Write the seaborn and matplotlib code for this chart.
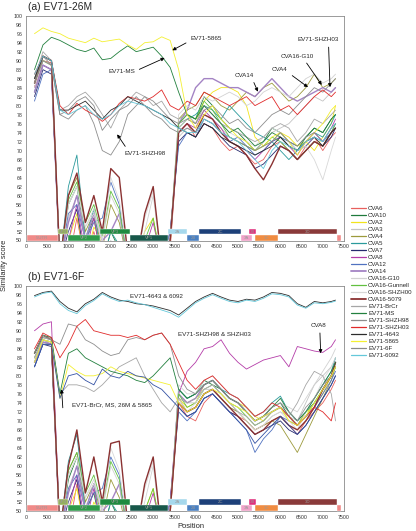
import matplotlib
matplotlib.use("Agg")
import matplotlib.pyplot as plt
import pandas as pd
import seaborn as sns

# window positions (bp)
POS = [200, 400, 600, 800, 1000, 1200, 1400, 1600, 1800, 2000, 2200, 2400, 2600,
       2800, 3000, 3200, 3400, 3600, 3800, 4000, 4200, 4400, 4600, 4800, 5000,
       5200, 5400, 5600, 5800, 6000, 6200, 6400, 6600, 6800, 7000, 7200, 7300]

# ---- panel (a): query EV71-26M ----
A_CVA6 = [84, 90, 89.5, 45, 45, 55, 45, 52, 45, 45, 45, 45, 45, 45, 45, 45, 48, 74, 76, 73, 76, 75, 72, 70, 71, 69, 67, 68, 71, 72, 70, 68, 71, 73, 70, 73, 74]
A_CVA10 = [86, 91, 90, 45, 58, 62, 50, 55, 45, 52, 48, 45, 45, 45, 45, 45, 50, 76, 78, 77, 82, 80, 77, 75, 74, 72, 70, 72, 75, 74, 72, 71, 73, 75, 74, 77, 78]
A_CVA2 = [85, 90, 89, 45, 50, 56, 45, 53, 50, 45, 45, 45, 45, 52, 55, 45, 49, 75, 77, 76, 81, 83, 84, 84, 83, 80, 73, 71, 72, 74, 73, 71, 72, 70, 73, 76, 80]
A_CVA3 = [83, 89, 88, 45, 55, 60, 52, 48, 45, 50, 45, 45, 45, 45, 45, 45, 50, 73, 75, 74, 78, 77, 75, 73, 72, 71, 70, 72, 74, 75, 76, 78, 80, 82, 81, 83, 84]
A_CVA4 = [84, 90, 89, 45, 60, 64, 52, 56, 48, 58, 54, 45, 45, 45, 45, 45, 50, 77, 79, 80, 83, 82, 80, 79, 81, 83, 82, 84, 85, 83, 81, 82, 84, 87, 84, 85, 86]
A_CVA5 = [83, 89, 88, 45, 62, 69, 50, 57, 45, 52, 49, 45, 45, 45, 45, 45, 50, 75, 77, 78, 80, 79, 77, 80, 78, 76, 74, 73, 72, 70, 68, 70, 72, 74, 73, 76, 78]
A_CVA7 = [82, 88, 87, 45, 52, 57, 45, 50, 45, 45, 45, 45, 45, 45, 45, 45, 52, 72, 74, 73, 76, 75, 73, 71, 70, 69, 66, 67, 69, 71, 70, 68, 70, 72, 71, 73, 75]
A_CVA8 = [84, 89, 88, 45, 50, 58, 47, 55, 45, 48, 45, 45, 45, 48, 54, 45, 50, 74, 76, 75, 79, 77, 75, 72, 71, 70, 68, 70, 72, 73, 71, 69, 72, 74, 72, 75, 77]
A_CVA12 = [81, 87, 88, 45, 56, 58, 50, 54, 55, 63, 58, 45, 45, 45, 45, 45, 52, 71, 74, 73, 77, 76, 74, 72, 73, 71, 69, 70, 72, 73, 72, 70, 71, 73, 72, 74, 76]
A_CVA14 = [83, 89, 88, 45, 54, 60, 50, 56, 50, 52, 56, 45, 45, 45, 45, 45, 50, 76, 79, 84, 86, 86, 85, 84, 84, 83, 82, 84, 86, 84, 82, 81, 82, 83, 84, 83, 84]
A_G10 = [85, 91, 90, 45, 58, 62, 53, 57, 50, 60, 56, 46, 45, 52, 60, 45, 50, 78, 80, 79, 82, 81, 82, 83, 82, 80, 81, 83, 84, 83, 82, 84, 86, 87, 85, 86, 87]
A_GUN = [85, 90, 89, 45, 59, 63, 54, 58, 51, 61, 57, 45, 45, 50, 55, 45, 50, 76, 78, 77, 81, 79, 76, 73, 72, 71, 70, 71, 73, 72, 70, 68, 70, 72, 71, 74, 76]
A_SHZH00 = [84, 90, 89, 45, 58, 62, 53, 56, 50, 64, 59, 47, 45, 55, 61, 45, 50, 75, 77, 76, 80, 78, 76, 74, 73, 72, 71, 73, 75, 74, 72, 70, 71, 68, 63.5, 70, 73]
A_5079 = [85, 91, 90, 45, 60, 65, 54, 60, 52, 66, 64, 47, 45, 56, 62, 45, 50, 74, 76, 74, 78, 77, 74, 72, 71, 69, 66, 63.5, 67, 71, 70, 68, 70, 72, 71, 74, 75]
A_BRCR = [86, 92, 90, 79, 80, 82, 83, 81, 78, 75, 79, 81, 83, 82, 80, 81, 78, 77, 78, 76, 80, 78, 76, 75, 74, 73, 72, 73, 75, 76, 75, 72, 74, 77, 76, 78, 79]
A_MS = [88, 93.5, 95.2, 94.5, 93.5, 92.5, 92, 92.8, 90.2, 90.5, 92, 93.3, 92, 92.5, 93, 91, 88.5, 83, 78, 77, 80, 78, 76, 74, 75, 73, 71, 72, 74, 73, 71, 70, 73, 75, 74, 77, 78]
A_SHZH98 = [85, 91, 89, 78, 77, 79, 80, 76, 70, 69, 72, 78, 80, 82, 81, 79, 77, 76, 77, 76, 79, 80, 78, 76, 77, 75, 74, 76, 78, 79, 78, 80, 82, 84, 83, 85, 86]
A_SHZH03 = [87, 91, 90, 80, 78, 80.5, 79, 78, 76.5, 78, 80.5, 82, 81.5, 81, 82, 83.5, 80, 79, 81, 80, 83, 82, 81, 80, 81, 82, 80, 81, 82, 79, 80, 78, 80, 82, 83.5, 82, 83]
A_4643 = [86, 91, 90, 79, 79, 80, 81, 79, 77, 79, 80, 82, 81, 80, 79, 78, 77, 75, 74, 73, 76, 75, 73, 72, 71, 70, 69, 70, 71, 73, 71, 70, 72, 73, 71, 74, 75]
A_5865 = [96, 97.3, 96.5, 96, 95, 94.5, 94, 95, 94.2, 94.5, 94.8, 93.5, 92.5, 94, 94.2, 95.3, 94.5, 88, 78, 75, 78, 80, 77, 75, 73, 72, 70, 71, 73, 74, 72, 69, 72, 74, 76, 79, 80]
A_6F = [85, 90, 89, 78, 79, 81, 82, 80, 74.5, 77, 79, 80, 82, 80, 78, 77, 75, 74, 75, 74, 77, 76, 74, 73, 72, 71, 70, 71, 72, 74, 72, 71, 73, 74, 72, 75, 76]
A_6092 = [87, 91, 90, 79, 78, 79, 80, 78, 77, 78, 80, 81, 80.5, 80, 79, 78, 76, 75, 74, 74, 77, 76, 74, 73, 72, 70, 68, 66, 70, 72, 71, 70, 72, 73, 72, 75, 76]

# ---- panel (b): query EV71-6F ----
B_CVA6 = [84, 88, 87, 45, 45, 56, 45, 50, 45, 45, 45, 45, 45, 45, 45, 45, 49, 74, 71, 70, 74, 76, 74, 72, 71, 70, 68, 69, 70, 71, 69, 67, 70, 72, 74, 77, 79]
B_CVA10 = [85, 88.5, 88, 45, 57, 62, 50, 54, 45, 52, 48, 45, 45, 45, 45, 45, 50, 77, 75, 76, 79, 78, 77, 75, 74, 72, 70, 71, 73, 74, 71, 69, 72, 74, 77, 80, 83]
B_CVA2 = [83, 87, 87, 45, 50, 55, 45, 52, 48, 45, 45, 45, 45, 50, 55, 45, 49, 75, 73, 74, 78, 79, 77, 75, 74, 73, 71, 70, 72, 73, 70, 69, 72, 73, 76, 80, 82]
B_CVA3 = [84, 88, 87, 45, 55, 60, 52, 48, 45, 50, 45, 45, 45, 45, 45, 45, 50, 76, 74, 74, 77, 77, 75, 73, 72, 70, 68, 69, 71, 72, 71, 70, 74, 78, 80, 82, 84]
B_CVA4 = [84, 88, 87.5, 45, 59, 63, 52, 56, 48, 57, 53, 45, 45, 45, 45, 45, 50, 75, 72, 73, 76, 77, 75, 73, 72, 70, 68, 69, 70, 69, 66, 63, 67, 71, 75, 79, 82]
B_CVA5 = [83, 87.5, 87, 45, 61, 67, 50, 56, 45, 52, 49, 45, 45, 45, 45, 45, 50, 77, 75, 76, 78, 79, 77, 76, 75, 73, 71, 72, 74, 75.5, 72, 70, 72, 75, 78, 81, 84]
B_CVA7 = [82, 87, 86.5, 45, 52, 57, 45, 50, 45, 45, 45, 45, 45, 45, 45, 45, 52, 73, 71, 72, 75, 76, 74, 72, 71, 69, 67, 68, 69, 70, 68, 67, 69, 72, 75, 78, 80]
B_CVA8 = [90, 91.5, 92, 45, 50, 58, 47, 55, 45, 48, 45, 45, 45, 48, 54, 45, 52, 76, 81, 83, 86, 86.5, 88, 85, 83, 81.5, 82.5, 83.5, 84, 84.5, 82, 86.5, 86, 85.5, 85.2, 86.5, 88]
B_CVA12 = [82, 87, 87, 45, 55, 58, 50, 54, 55, 62, 58, 45, 45, 45, 45, 45, 52, 72, 70, 72, 75, 76, 74, 72, 70, 68, 63, 66, 68, 71, 70, 69, 71, 73, 76, 79, 81]
B_CVA14 = [83, 87.5, 87, 45, 54, 60, 50, 56, 50, 52, 56, 45, 45, 45, 45, 45, 50, 76, 74, 75, 78, 79, 77, 75, 74, 72, 70, 71, 72, 73, 71, 69, 71, 73, 77, 80, 83]
B_G10 = [84, 88.5, 88, 45, 58, 62, 53, 57, 50, 60, 56, 46, 45, 52, 60, 45, 50, 78, 76, 76, 79, 80, 78, 76, 75, 73, 71, 72, 73, 74, 73, 72, 75, 78, 81, 84, 86]
B_GUN = [84, 88, 87.5, 45, 59, 63, 54, 58, 51, 61, 57, 45, 45, 50, 55, 45, 50, 76, 73, 74, 77, 78, 76, 74, 73, 71, 69, 70, 72, 73, 71, 69, 71, 74, 77, 80, 82]
B_SHZH00 = [84, 88, 87.5, 45, 58, 62, 53, 56, 50, 64, 59, 47, 45, 55, 61, 45, 50, 75, 72, 74, 77, 78, 76, 74, 72, 70, 68, 69, 71, 72, 70, 68, 72, 75, 79, 82, 84]
B_5079 = [85, 89, 88, 45, 60, 68, 54, 62, 52, 65, 65.5, 47, 45, 56, 62, 45, 50, 74, 72, 73, 76, 77, 75, 73, 71, 69, 67, 68, 70, 71, 69, 68, 70, 73, 77, 80, 83]
B_BRCR = [84, 88.5, 88, 76, 78, 78, 77.5, 76.5, 78, 80, 82, 83, 84, 80, 77, 74, 72, 75, 74, 75, 77, 78, 76, 74, 72, 71, 69, 70, 72, 73, 71, 74, 78, 81, 80, 76, 70]
B_MS = [85, 89, 88.5, 76, 85, 86, 84, 83, 82, 81, 80.5, 80, 79, 78.5, 80, 82, 84, 77, 75, 76, 78, 79, 77, 75, 74, 72, 70, 71, 73, 75, 72, 70, 72, 75, 78, 81, 83]
B_SHZH98 = [85, 89, 88, 87, 91.5, 91, 88, 87, 85.5, 84.5, 85, 88, 88.5, 88, 89, 89.5, 87, 80, 77, 76, 78, 79, 77, 75, 74, 72, 70, 71, 73, 74, 72, 70, 73, 75, 78, 80, 82]
B_SHZH03 = [86, 89.5, 88.5, 84, 87, 91, 92.5, 90, 89.5, 89, 89, 88.5, 89, 88, 89, 89.5, 87, 83, 79, 77, 79, 80, 78, 76, 75, 73, 71, 72, 74, 73, 71, 69, 71, 73, 72, 70, 74]
B_4643 = [97.8, 98.5, 98.8, 96.5, 95, 94.2, 96, 97, 98.5, 97.5, 96.8, 96.5, 96, 95.8, 95.5, 95, 94.5, 93.5, 95, 96.5, 97.5, 98.3, 97.5, 96.8, 96.5, 97, 96.8, 97.5, 98.5, 98.3, 97.8, 96, 95.2, 96.5, 96.2, 96.5, 96.8]
B_5865 = [83, 88, 87.5, 75, 82.5, 81, 80, 80, 80.5, 82, 81, 80.5, 80, 79.5, 79, 78.5, 78, 74, 72, 73, 76, 77, 76, 74, 73, 72, 70, 71, 72, 73, 70, 69, 71, 74, 77, 80, 82]
B_6092 = [97.5, 98.3, 98.6, 96, 94.5, 93.8, 95.6, 96.7, 98.2, 97.2, 96.5, 96.8, 96.2, 95.8, 95.2, 94.6, 94, 93, 94.6, 96.2, 97.2, 98, 97.2, 96.5, 96.2, 96.8, 96.5, 97.2, 98.2, 98, 97.5, 95.7, 95, 96.2, 96, 96.3, 96.6]
B_26M = [82, 87, 87, 75, 80, 80.5, 79, 78, 81.5, 80, 79.5, 81, 80, 79.7, 78, 77, 75, 73, 71, 72, 75, 76, 74, 72, 70, 68, 65, 67, 69, 71, 69, 67, 69, 72, 75, 78, 80]

STRAINS = ["CVA6", "CVA10", "CVA2", "CVA3", "CVA4", "CVA5", "CVA7", "CVA8", "CVA12",
           "CVA14", "CVA16-G10", "CVA16-Gunnell", "CVA16-SHZH00", "CVA16-5079",
           "EV71-BrCr", "EV71-MS", "EV71-SHZH98", "EV71-SHZH03", "EV71-4643",
           "EV71-5865", "EV71-6F", "EV71-6092"]
COLORS = ["#e8605e", "#1e7a3c", "#f2e41c", "#c4c4c4", "#9c9a3c", "#2a9a9c", "#262a6e",
          "#b43ca8", "#5072c0", "#a484c4", "#d2d2d2", "#62c040", "#d8d8d8", "#8a3232",
          "#a6a6a6", "#22803e", "#8e8e8e", "#e02a2a", "#2c2c2c", "#f4f032", "#8a8a8a",
          "#64c8da"]
WIDTHS = [0.6] * len(STRAINS)
WIDTHS[STRAINS.index("CVA14")] = 1.0
WIDTHS[STRAINS.index("CVA16-5079")] = 1.0

# genome map: label, start, end, row (1 upper / 0 lower), colour
GENES = ["5'UTR", "VP4", "VP2", "VP3", "VP1", "2A", "2B", "2C", "3A", "3B", "3C", "3D", ""]
G_START = [15, 760, 980, 1745, 2455, 3360, 3790, 4090, 5070, 5270, 5400, 5950, 7330]
G_END = [760, 1000, 1745, 2455, 3360, 3790, 4090, 5070, 5320, 5420, 5950, 7330, 7420]
G_ROW = [0, 1, 0, 1, 0, 1, 0, 1, 0, 1, 0, 1, 0]
G_COL = ["#f08a88", "#94b05c", "#2e9a4a", "#1f8a40", "#17584a", "#a6d8ec", "#4a80c2",
         "#1d4079", "#f0a2c8", "#e0307c", "#f08c42", "#8a3a3a", "#f08a88"]

panel_a = dict(zip(STRAINS, [A_CVA6, A_CVA10, A_CVA2, A_CVA3, A_CVA4, A_CVA5, A_CVA7, A_CVA8,
                             A_CVA12, A_CVA14, A_G10, A_GUN, A_SHZH00, A_5079, A_BRCR, A_MS,
                             A_SHZH98, A_SHZH03, A_4643, A_5865, A_6F, A_6092]))
panel_b = dict(zip(STRAINS, [B_CVA6, B_CVA10, B_CVA2, B_CVA3, B_CVA4, B_CVA5, B_CVA7, B_CVA8,
                             B_CVA12, B_CVA14, B_G10, B_GUN, B_SHZH00, B_5079, B_BRCR, B_MS,
                             B_SHZH98, B_SHZH03, B_4643, B_5865, None, B_6092]))
panel_b["EV71-26M"] = B_26M

pal = dict(zip(STRAINS, COLORS))
pal["EV71-26M"] = "#3452a4"
sizes = dict(zip(STRAINS, WIDTHS))
sizes["EV71-26M"] = 0.6

sns.set_style("white")
plt.rcParams['font.family'] = ['Liberation Sans', 'DejaVu Sans']

fig = plt.figure(figsize=(4.16, 5.31), dpi=100)
ax_a = fig.add_axes([26 / 416, 1 - 240.5 / 531, 318 / 416, 224.8 / 531])
ax_b = fig.add_axes([26 / 416, 1 - 511 / 531, 318 / 416, 225.3 / 531])


def long_frame(panel):
    rows = []
    for name, vals in panel.items():
        if vals is None:
            continue
        for p, v in zip(POS, vals):
            rows.append((name, p, v))
    return pd.DataFrame(rows, columns=["Strain", "Position", "Score"])


def draw(ax, panel):
    df = long_frame(panel)
    order = [s for s in panel if panel[s] is not None]
    sns.lineplot(data=df, x="Position", y="Score", hue="Strain", size="Strain",
                 hue_order=order, size_order=order, palette=pal, sizes=sizes,
                 legend=False, ax=ax)
    for lab, s, e, r, c in zip(GENES, G_START, G_END, G_ROW, G_COL):
        y0, h = (51.35, 1.3) if r else (50.0, 1.25)
        ax.broken_barh([(s, e - s)], (y0, h), facecolors=c, edgecolor="white",
                       linewidth=0.3, zorder=5)
        if lab:
            ax.text((s + e) / 2, y0 + h / 2, lab, ha="center", va="center",
                    fontsize=3.2, color="#9a9a9a", zorder=6)
    ax.set_xlim(0, 7500)
    ax.set_ylim(50, 100)
    ax.set_xticks(range(0, 7501, 500))
    ax.set_yticks(range(50, 101, 2))
    ax.tick_params(labelsize=3.8, length=1.5, width=0.4, pad=1.2, colors="#333333")
    ax.set_xlabel("")
    ax.set_ylabel("")
    for sp in ax.spines.values():
        sp.set_color("#8a8a8a")
        sp.set_linewidth(0.6)


draw(ax_a, panel_a)
draw(ax_b, panel_b)

arrow = dict(arrowstyle="-|>", color="black", lw=0.6, mutation_scale=5, shrinkA=1, shrinkB=0)
fs = 4.5
ax_a.annotate("EV71-5865", xy=(3450, 92.3), xytext=(4250, 95.0), fontsize=fs,
              ha="center", va="center", arrowprops=dict(arrow, relpos=(0.05, 0.2)))
ax_a.annotate("EV71-MS", xy=(3270, 90.6), xytext=(2250, 87.5), fontsize=fs,
              ha="center", va="center", arrowprops=dict(arrow, relpos=(1.0, 0.6)))
ax_a.annotate("CVA14", xy=(5470, 83.1), xytext=(5140, 86.7), fontsize=fs,
              ha="center", va="center", arrowprops=dict(arrow, relpos=(0.9, 0.1)))
ax_a.annotate("CVA4", xy=(6650, 84.1), xytext=(5990, 88.1), fontsize=fs,
              ha="center", va="center", arrowprops=dict(arrow, relpos=(0.9, 0.1)))
ax_a.annotate("CVA16-G10", xy=(6975, 84.6), xytext=(6390, 91.0), fontsize=fs,
              ha="center", va="center", arrowprops=dict(arrow, relpos=(0.7, 0.0)))
ax_a.annotate("EV71-SHZH03", xy=(7170, 84.1), xytext=(6890, 94.6), fontsize=fs,
              ha="center", va="center", arrowprops=dict(arrow, relpos=(0.75, 0.0)))
ax_a.annotate("EV71-SHZH98", xy=(2150, 73.6), xytext=(2800, 69.4), fontsize=fs,
              ha="center", va="center", arrowprops=dict(arrow, relpos=(0.1, 1.0)))

ax_b.text(3066, 97.7, "EV71-4643 & 6092", fontsize=fs, ha="center", va="center")
ax_b.text(4434, 89.1, "EV71-SHZH98 & SHZH03", fontsize=fs, ha="center", va="center")
ax_b.annotate("CVA8", xy=(6950, 85.0), xytext=(6910, 91.1), fontsize=fs,
              ha="center", va="center", arrowprops=dict(arrow, relpos=(0.55, 0.0)))
ax_b.text(2030, 73.5, "EV71-BrCr, MS, 26M & 5865", fontsize=fs, ha="center", va="center")
ax_b.annotate("", xy=(840, 77.0), xytext=(870, 72.6), arrowprops=arrow)

fig.text(28 / 416, 1 - 7 / 531, "(a) EV71-26M", fontsize=7.4, va="center", ha="left")
fig.text(28 / 416, 1 - 277.5 / 531, "(b) EV71-6F", fontsize=7.4, va="center", ha="left")
fig.text(5 / 416, 0.5, "Similarity score", rotation=90, fontsize=5.4, va="center", ha="center")
fig.text(191 / 416, 1 - 527 / 531, "Position", fontsize=5.4, va="center", ha="center")

handles = [plt.Line2D([], [], color=c, lw=w + 0.3) for c, w in zip(COLORS, WIDTHS)]
fig.legend(handles, STRAINS, loc="upper left", bbox_to_anchor=(351 / 416, 1 - 206 / 531),
           frameon=False, fontsize=4.4, handlelength=2.4, handletextpad=0.4,
           labelspacing=0.28, borderpad=0, borderaxespad=0)

fig.savefig("out.png", dpi=100)
